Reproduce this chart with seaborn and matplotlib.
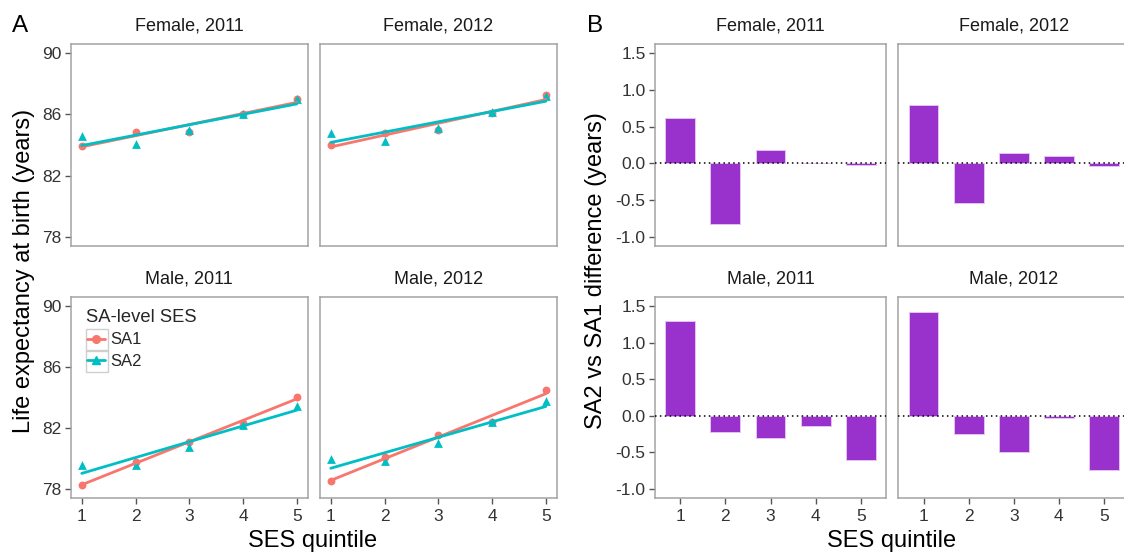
import numpy as np
import pandas as pd
import matplotlib
matplotlib.use("Agg")
import matplotlib.pyplot as plt
from matplotlib.lines import Line2D
from matplotlib.patches import Rectangle
import seaborn as sns

sns.set_style("white")
plt.rcParams['font.family'] = ['Liberation Sans', 'DejaVu Sans']
plt.rcParams['axes.unicode_minus'] = False

# ---------------- data ----------------
quintiles = [1, 2, 3, 4, 5]
panels = ["Female, 2011", "Female, 2012", "Male, 2011", "Male, 2012"]

le_sa1_f2011 = [83.95, 84.87, 84.83, 86.00, 87.02]
le_sa2_f2011 = [84.57, 84.05, 85.01, 86.00, 87.00]
le_sa1_f2012 = [84.00, 84.80, 85.00, 86.07, 87.24]
le_sa2_f2012 = [84.80, 84.26, 85.14, 86.17, 87.21]
le_sa1_m2011 = [78.28, 79.78, 81.07, 82.33, 84.04]
le_sa2_m2011 = [79.57, 79.56, 80.77, 82.18, 83.44]
le_sa1_m2012 = [78.54, 80.09, 81.54, 82.41, 84.48]
le_sa2_m2012 = [79.95, 79.84, 81.05, 82.38, 83.74]

diff_f2011 = [0.62, -0.82, 0.18, 0.005, -0.025]
diff_f2012 = [0.80, -0.54, 0.14, 0.105, -0.03]
diff_m2011 = [1.29, -0.22, -0.30, -0.145, -0.60]
diff_m2012 = [1.41, -0.25, -0.495, -0.03, -0.74]

le_sa1 = [le_sa1_f2011, le_sa1_f2012, le_sa1_m2011, le_sa1_m2012]
le_sa2 = [le_sa2_f2011, le_sa2_f2012, le_sa2_m2011, le_sa2_m2012]
diffs = [diff_f2011, diff_f2012, diff_m2011, diff_m2012]

y_ticks_a = [78, 82, 86, 90]
y_ticks_b = [-1.0, -0.5, 0.0, 0.5, 1.0, 1.5]

# long tables
rows_a = []
for p, s1, s2 in zip(panels, le_sa1, le_sa2):
    for q, v1, v2 in zip(quintiles, s1, s2):
        rows_a.append(dict(panel=p, quintile=q, level="SA1", le=v1))
        rows_a.append(dict(panel=p, quintile=q, level="SA2", le=v2))
df_a = pd.DataFrame(rows_a)
rows_b = []
for p, d in zip(panels, diffs):
    for q, v in zip(quintiles, d):
        rows_b.append(dict(panel=p, quintile=q, diff=v))
df_b = pd.DataFrame(rows_b)

# ---------------- styling ----------------
W, H = 1124, 552
fig = plt.figure(figsize=(W / 100, H / 100), dpi=100)

RED = "#F8766D"
TEAL = "#00BFC4"
PURPLE = "#9932CC"
BORDER = "#A3A3A3"
TXT = "#333333"
TICK_FS = 12.5
STRIP_FS = 13
AX_FS = 17
STRIP_PAD = 9.5


def add_ax(x0, y0, x1, y1):
    return fig.add_axes([x0 / W, 1 - y1 / H, (x1 - x0) / W, (y1 - y0) / H])


def style(ax, show_x, show_y):
    for s in ax.spines.values():
        s.set_color(BORDER)
        s.set_linewidth(1.1)
    ax.tick_params(axis="both", which="both", length=4.3, width=1, color="#555555",
                   labelsize=TICK_FS, labelcolor=TXT,
                   bottom=show_x, left=show_y, labelbottom=show_x, labelleft=show_y)
    ax.tick_params(axis="x", pad=3.5)
    ax.tick_params(axis="y", pad=2.5)
    ax.set_xlabel("")
    ax.set_ylabel("")
    ax.grid(False)


cols_a = [(71, 307.7), (320, 556.7)]
cols_b = [(655, 886), (898.3, 1129.3)]
rows_y = [(44, 246), (296.7, 498.3)]

# ---------------- panel A ----------------
for i, p in enumerate(panels):
    r, c = divmod(i, 2)
    ax = add_ax(cols_a[c][0], rows_y[r][0], cols_a[c][1], rows_y[r][1])
    sub = df_a[df_a.panel == p]
    for lvl, col, mk, ms in [("SA1", RED, "o", 32), ("SA2", TEAL, "^", 40)]:
        d = sub[sub.level == lvl]
        sns.regplot(data=d, x="quintile", y="le", ax=ax, ci=None, color=col,
                    marker=mk, truncate=True,
                    scatter_kws=dict(s=ms, linewidths=0, alpha=1),
                    line_kws=dict(lw=2.0))
    ax.set_xlim(0.8, 5.2)
    ax.set_ylim(77.4, 90.6)
    ax.set_xticks(quintiles)
    ax.set_yticks(y_ticks_a)
    ax.set_title(p, fontsize=STRIP_FS, color="#1A1A1A", pad=STRIP_PAD)
    style(ax, show_x=(r == 1), show_y=(c == 0))

# ---------------- panel B ----------------
for i, p in enumerate(panels):
    r, c = divmod(i, 2)
    ax = add_ax(cols_b[c][0], rows_y[r][0], cols_b[c][1], rows_y[r][1])
    sub = df_b[df_b.panel == p]
    sns.barplot(data=sub, x="quintile", y="diff", ax=ax, color=PURPLE,
                saturation=1, width=0.66, errorbar=None,
                edgecolor="#E6C3F3", linewidth=0.7)
    ax.axhline(0, color="black", ls=(0, (1, 2.2)), lw=1.1, zorder=3)
    ax.set_xlim(-0.56, 4.56)
    ax.set_ylim(-1.125, 1.625)
    ax.set_yticks(y_ticks_b)
    ax.set_yticklabels([f"{v:.1f}" for v in y_ticks_b])
    ax.set_title(p, fontsize=STRIP_FS, color="#1A1A1A", pad=STRIP_PAD)
    style(ax, show_x=(r == 1), show_y=(c == 0))

# ---------------- labels ----------------
fig.text(20.5 / W, 1 - 25.5 / H, "A", fontsize=17.5, ha="center", va="center", color="black")
fig.text(595.5 / W, 1 - 25.5 / H, "B", fontsize=17.5, ha="center", va="center", color="black")
fig.text(24 / W, 1 - 271 / H, "Life expectancy at birth (years)", rotation=90,
         fontsize=AX_FS, ha="center", va="center", color="black")
fig.text(596 / W, 1 - 271 / H, "SA2 vs SA1 difference (years)", rotation=90,
         fontsize=AX_FS, ha="center", va="center", color="black")
fig.text(313 / W, 1 - 541 / H, "SES quintile", fontsize=AX_FS, ha="center",
         va="center", color="black")
fig.text(892 / W, 1 - 541 / H, "SES quintile", fontsize=AX_FS, ha="center",
         va="center", color="black")

# ---------------- legend ----------------
handles = [Line2D([], [], color=RED, marker="o", lw=2.0, markersize=5.5),
           Line2D([], [], color=TEAL, marker="^", lw=2.0, markersize=6)]
leg = fig.legend(handles, ["SA1", "SA2"], title="SA-level SES",
                 loc="upper left", bbox_to_anchor=(86.5 / W, 1 - 309 / H),
                 frameon=False, fontsize=12, title_fontsize=13.2,
                 handlelength=1.1, handletextpad=0.35, labelspacing=0.38,
                 borderpad=0, borderaxespad=0, alignment="left")
fig.canvas.draw()
rend = fig.canvas.get_renderer()
for t in leg.get_texts():
    bb = t.get_window_extent(rend)
    cy = (bb.y0 + bb.y1) / 2
    right = bb.x0 - 2.5
    left = right - 22.5
    fig.patches.append(Rectangle((left / W, (cy - 11.3) / H), 22.5 / W, 22.6 / H,
                                 transform=fig.transFigure, fill=False,
                                 edgecolor="#CFCFCF", lw=1.0, zorder=0))

fig.savefig("out.png", dpi=100)
